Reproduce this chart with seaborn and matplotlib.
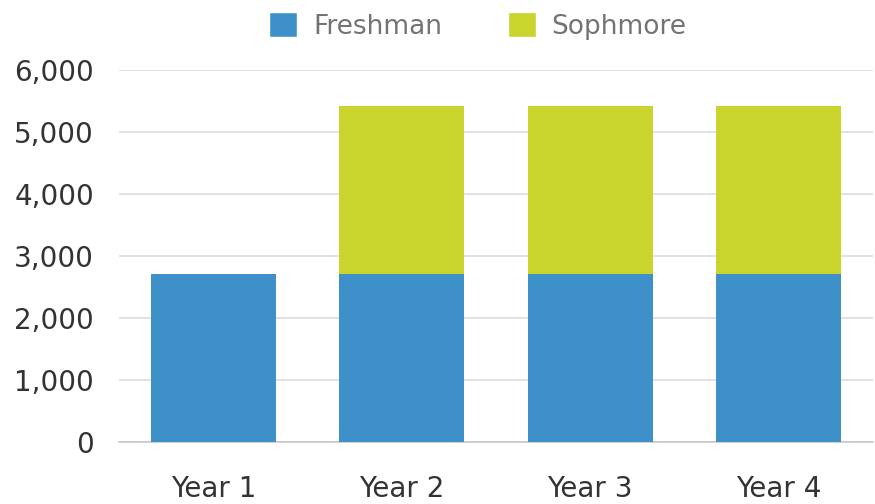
import numpy as np
import pandas as pd
import matplotlib
matplotlib.use("Agg")
import matplotlib.pyplot as plt
import matplotlib.patches as mpatches
from matplotlib.ticker import FuncFormatter, FixedLocator
import seaborn as sns

# ── Data ───────────────────────────────────────────────────────────────────────
YEARS     = ["Year 1", "Year 2", "Year 3", "Year 4"]
FRESHMAN  = [2710, 2710, 2710, 2710]
SOPHMORE  = [0, 2710, 2710, 2710]
Y_TICKS   = [0, 1000, 2000, 3000, 4000, 5000, 6000]

COL_FRESH = "#3E91C8"
COL_SOPH  = "#C9D42D"
FONT      = "DejaVu Sans"

df = pd.DataFrame({"year": YEARS, "fresh": FRESHMAN, "soph": SOPHMORE})
df["total"] = df["fresh"] + df["soph"]

# ── Figure ─────────────────────────────────────────────────────────────────────
sns.set_style("white")
plt.rcParams["font.family"] = [FONT]
plt.rcParams["font.sans-serif"] = [FONT]

fig = plt.figure(figsize=(8.75, 5.04), dpi=100)
ax = fig.add_axes([119 / 875, 1 - 442 / 504, (873 - 119) / 875, (442 - 70) / 504])

# stacked: total (green) underneath, freshman (blue) on top of it
sns.barplot(data=df, x="year", y="total", color=COL_SOPH, width=0.665,
            saturation=1, linewidth=0, ax=ax, zorder=2)
sns.barplot(data=df, x="year", y="fresh", color=COL_FRESH, width=0.665,
            saturation=1, linewidth=0, ax=ax, zorder=3)

ax.set_xlim(-0.5, len(YEARS) - 0.5)
ax.set_ylim(0, 6000)
ax.yaxis.set_major_locator(FixedLocator(Y_TICKS))
ax.yaxis.set_major_formatter(FuncFormatter(lambda v, _: f"{int(v):,}"))
ax.grid(axis="y", color="#d9d9d9", lw=1.1, zorder=0)
ax.set_axisbelow(True)

for s in ["top", "right", "left"]:
    ax.spines[s].set_visible(False)
ax.spines["bottom"].set_color("#c4c4c4")
ax.spines["bottom"].set_linewidth(1.1)

ax.set_xlabel("")
ax.set_ylabel("")
ax.tick_params(axis="y", length=0, pad=18, labelsize=20, labelcolor="#333333")
ax.tick_params(axis="x", which="major", length=0, pad=24, labelsize=20,
               labelcolor="#333333")
ax.set_xticks(np.arange(-0.5, len(YEARS)), minor=True)
ax.tick_params(axis="x", which="minor", length=5, width=1.1, color="#c4c4c4",
               direction="out")
for lbl in ax.get_xticklabels() + ax.get_yticklabels():
    lbl.set_fontfamily(FONT)

# ── Legend ─────────────────────────────────────────────────────────────────────
handles = [mpatches.Patch(facecolor=COL_FRESH, label="Freshman"),
           mpatches.Patch(facecolor=COL_SOPH, label="Sophmore")]
fig.legend(handles=handles, loc="center", bbox_to_anchor=(478 / 875, 1 - 26 / 504),
           ncol=2, frameon=False, prop={"family": FONT, "size": 19},
           labelcolor="#737373",
           handlelength=1.05, handleheight=1.05, handletextpad=0.6,
           columnspacing=2.5)

fig.savefig("out.png", dpi=100)
